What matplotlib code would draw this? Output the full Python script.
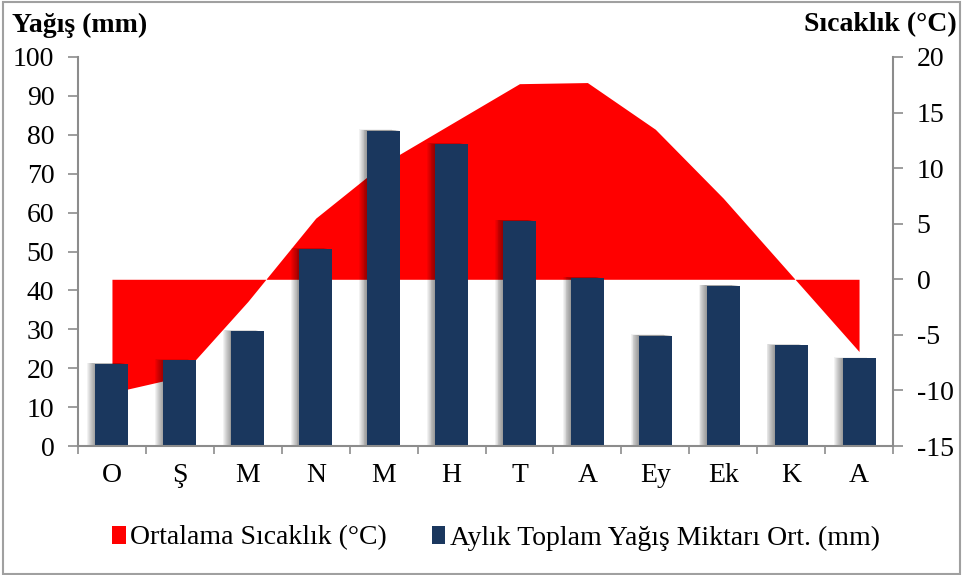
import matplotlib
matplotlib.use("Agg")
import matplotlib.pyplot as plt
import matplotlib.transforms as mtransforms
from matplotlib.patches import Patch, Rectangle
import numpy as np

# ---- data ----
months = ["O", "Ş", "M", "N", "M", "H", "T", "A", "Ey", "Ek", "K", "A"]
precip_mm = [21.1, 22.0, 29.5, 50.6, 81.1, 77.6, 57.9, 43.2, 28.4, 41.2, 25.9, 22.5]
temp_c = [-10.2, -8.8, -2.0, 5.5, 10.4, 14.0, 17.6, 17.7, 13.5, 7.3, 0.4, -6.5]
left_ticks = [0, 10, 20, 30, 40, 50, 60, 70, 80, 90, 100]
right_ticks = [-15, -10, -5, 0, 5, 10, 15, 20]
left_title = "Yağış (mm)"
right_title = "Sıcaklık (°C)"
temp_label = "Ortalama Sıcaklık (°C)"
precip_label = "Aylık Toplam Yağış Miktarı Ort. (mm)"

RED = "#FF0000"
NAVY = "#1A375E"
GRAY = "#8C8C8C"

plt.rcParams["font.family"] = ["Liberation Serif", "DejaVu Serif"]
plt.rcParams["axes.unicode_minus"] = False

fig = plt.figure(figsize=(9.63, 5.75), dpi=100)
ax = fig.add_axes([78 / 963, 1 - 446 / 575, (893 - 78) / 963, (446 - 57) / 575])
ax2 = ax.twinx()

x = np.arange(len(months))

# temperature area (right axis), drawn behind the bars
ax2.fill_between(x, 0, temp_c, color=RED, linewidth=0)
ax2.set_ylim(-15, 20)
ax2.set_yticks(right_ticks)

# bars (left axis) on top
ax.set_zorder(ax2.get_zorder() + 1)
ax.patch.set_visible(False)
w = 0.485
# soft shadow to the left of each bar
for k in range(1, 10):
    tr = mtransforms.offset_copy(ax.transData, fig=fig, x=-k * 0.9, y=k * 0.12, units="dots")
    ax.bar(x, precip_mm, width=w, color="black", alpha=0.05, linewidth=0, transform=tr, zorder=1)
ax.bar(x, precip_mm, width=w, color=NAVY, linewidth=0, zorder=2)
ax.set_ylim(0, 100)
ax.set_yticks(left_ticks)
ax.set_xlim(-0.5, len(months) - 0.5)

FS = 20
# x ticks at category boundaries, labels at centers
ax.set_xticks(np.arange(-0.5, len(months), 1.0))
ax.set_xticklabels([])
ax.set_xticks(x, minor=True)
ax.set_xticklabels(months, minor=True)
ax.tick_params(axis="x", which="major", direction="out", length=6, width=1.2, color=GRAY)
ax.tick_params(axis="x", which="minor", length=0, pad=12, labelsize=FS)

ax.tick_params(axis="y", direction="out", length=7, width=1.2, color=GRAY, labelsize=FS, pad=10)
ax2.tick_params(axis="y", direction="out", length=7, width=1.2, color=GRAY, labelsize=FS, pad=10)

for a in (ax, ax2):
    a.spines["top"].set_visible(False)
    for s in ("left", "right", "bottom"):
        a.spines[s].set_color(GRAY)
        a.spines[s].set_linewidth(1.5)
ax.spines["right"].set_visible(False)
ax2.spines["left"].set_visible(False)
ax2.spines["bottom"].set_visible(False)

# axis titles
fig.text(12 / 963, 1 - 25 / 575, left_title, ha="left", va="center", fontsize=20, fontweight="bold")
fig.text(957 / 963, 1 - 25 / 575, right_title, ha="right", va="center", fontsize=20, fontweight="bold")

# legend
handles = [Patch(facecolor=RED, edgecolor="none"), Patch(facecolor=NAVY, edgecolor="none")]
fig.legend(handles, [temp_label, precip_label], loc="center", bbox_to_anchor=(496 / 963, 1 - 538 / 575),
           ncol=2, frameon=False, fontsize=FS, handlelength=0.5, handleheight=0.6,
           handletextpad=0.15, columnspacing=1.6)

# outer border
fig.patches.append(Rectangle((0.003, 0.002), 0.994, 0.995, transform=fig.transFigure,
                             fill=False, edgecolor="#A0A0A0", linewidth=1.5))

fig.savefig("out.png", dpi=100)
